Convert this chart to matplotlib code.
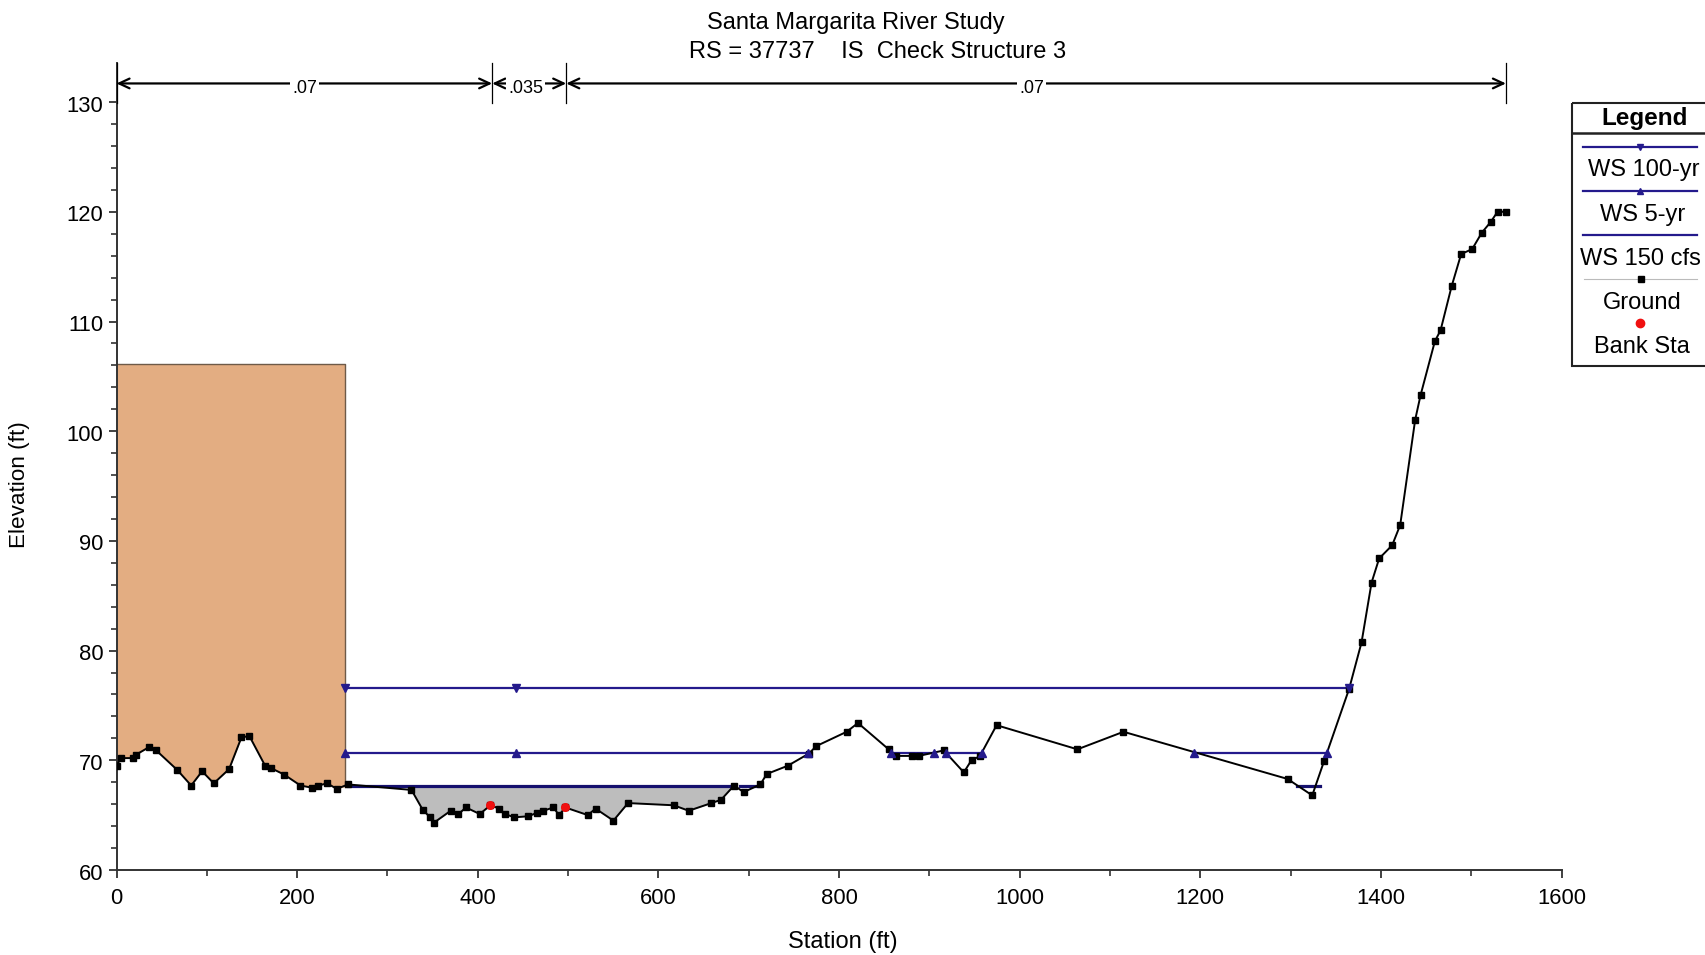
import numpy as np
import matplotlib
matplotlib.use('Agg')
import matplotlib.pyplot as plt
from matplotlib.patches import Rectangle
from matplotlib.ticker import MultipleLocator
from matplotlib.transforms import ScaledTranslation

# Cross section ground points
ground_x = [0, 4.8, 18.8, 21.4, 36, 44, 67.5, 82.7, 94.8, 107.7, 124.7, 138.4, 147.2, 164.6, 170.8,
            185.6, 203.7, 216.6, 223.6, 233.2, 243.9, 256.5, 326.6, 339, 347.2, 351.3, 370, 378.6,
            387, 402.2, 414, 423.6, 429.9, 440.6, 456, 465.3, 472.7, 483.8, 490, 497, 522, 530.4,
            550.2, 566.4, 617, 633.6, 658.7, 669.4, 683.8, 694.5, 712.9, 720, 743.2, 766.4, 775,
            808.5, 821, 855, 862.8, 881, 888.4, 916, 938.2, 947, 955.8, 974.5, 1064, 1115, 1296.7,
            1324, 1337, 1364.8, 1378.6, 1389.7, 1398.1, 1412.5, 1421.4, 1438, 1444, 1459.8, 1466.1,
            1478.3, 1488.9, 1501.1, 1511.8, 1521.4, 1529.2, 1538.4]
ground_y = [69.5, 70.2, 70.2, 70.5, 71.2, 70.9, 69.1, 67.7, 69.0, 67.9, 69.2, 72.1, 72.2, 69.5, 69.3,
            68.7, 67.7, 67.5, 67.7, 67.9, 67.4, 67.8, 67.3, 65.5, 64.8, 64.3, 65.4, 65.1,
            65.7, 65.1, 65.9, 65.6, 65.1, 64.8, 64.9, 65.2, 65.4, 65.7, 65.0, 65.7, 65.0, 65.6,
            64.5, 66.1, 65.9, 65.4, 66.1, 66.4, 67.7, 67.1, 67.8, 68.75, 69.5, 70.6, 71.3,
            72.6, 73.4, 71.0, 70.4, 70.4, 70.4, 70.9, 68.9, 70.05, 70.35, 73.2, 71.0, 72.6, 68.3,
            66.8, 69.9, 76.5, 80.75, 86.2, 88.4, 89.6, 91.45, 101.05, 103.3, 108.2, 109.2,
            113.2, 116.15, 116.6, 118.1, 119.05, 120, 120]

bank_x = [414, 497]
bank_y = [65.95, 65.7]

# water surfaces, nan splits the wetted parts
ws100_x = [253, 1365]
ws100_y = [76.6, 76.6]
ws100_marks = [253, 442, 1365]

ws5_x = [253, 766, np.nan, 858, 905, np.nan, 918, 958, np.nan, 1193, 1340]
ws5_y = [70.65, 70.65, np.nan, 70.65, 70.65, np.nan, 70.65, 70.65, np.nan, 70.65, 70.65]
ws5_marks = [253, 442, 766, 858, 905, 918, 958, 1193, 1340]

ws150_x = [256, 682, np.nan, 690, 712, np.nan, 1307, 1333]
ws150_y = [67.65, 67.65, np.nan, 67.65, 67.65, np.nan, 67.65, 67.65]
ws150_level = 67.65
wet_start = 326
wet_end = 684

# ineffective flow block on the left
block_right = 253
block_right_y = 67.6
block_top = 106.1

# Manning n values along the top
n_breaks = [0, 416, 498, 1538.5]
n_labels = ['.07', '.035', '.07']
n_label_x = [208, 453, 1013]

NAVY = '#241a8c'
ORANGE = '#e3ad82'
plt.rcParams['font.family'] = 'Liberation Sans'

W, H = 1705, 955
fig = plt.figure(figsize=(W / 100, H / 100), dpi=100)
ax = fig.add_axes([116.5 / W, 1 - 870 / H, (1561.5 - 116.5) / W, (870 - 63) / H])

gx = np.array(ground_x)
gy = np.array(ground_y)

# orange block
left = gx <= 245
bx = np.append(gx[left], block_right)
by = np.append(gy[left], block_right_y)
ax.fill_between(bx, by, block_top, color=ORANGE, lw=0, zorder=1)
ax.plot([0, block_right, block_right], [block_top, block_top, block_right_y], color='#6e5a48', lw=1, zorder=1.5)

# wetted area of the low flow
wet = (gx >= wet_start) & (gx <= wet_end)
ax.fill_between(gx[wet], gy[wet], ws150_level, color='#bdbdbd', lw=0, zorder=1)

ax.plot(ws100_x, ws100_y, color=NAVY, lw=1.6, zorder=2)
ax.plot(ws100_marks, [ws100_y[0]] * len(ws100_marks), ls='none', marker='v', ms=5.5, color=NAVY, zorder=3.5)
ax.plot(ws5_x, ws5_y, color=NAVY, lw=1.6, zorder=2)
ax.plot(ws5_marks, [ws5_y[0]] * len(ws5_marks), ls='none', marker='^', ms=5.5, color=NAVY, zorder=3.5)
ax.plot(ws150_x, ws150_y, color='#15106e', lw=2.3, zorder=2)

ax.plot(ground_x, ground_y, color='black', lw=1.4, marker='s', ms=5, zorder=3)
ax.plot(bank_x, bank_y, ls='none', marker='o', ms=5.5, color='#f01010', zorder=4)

# n value brackets
for b in n_breaks:
    ax.plot([b, b], [129.9, 133.6], color='black', lw=0.9, clip_on=False, zorder=3)
for i in range(len(n_labels)):
    ax.annotate('', xy=(n_breaks[i], 131.7), xytext=(n_breaks[i + 1], 131.7),
                arrowprops=dict(arrowstyle='<->,head_length=0.75,head_width=0.35', color='black', lw=1.6,
                                shrinkA=0, shrinkB=0), zorder=3)
    ax.text(n_label_x[i], 131.2, n_labels[i], ha='center', va='center', fontsize=13,
            bbox=dict(facecolor='white', edgecolor='none', pad=1.5), zorder=4)

ax.set_xlim(0, 1600)
ax.set_ylim(60, 60 + (870 - 63) / 10.97)
ax.set_xticks(np.arange(0, 1601, 200))
ax.set_yticks(np.arange(60, 131, 10))
ax.xaxis.set_minor_locator(MultipleLocator(100))
ax.set_yticks([t for t in np.arange(60, 131, 2) if t % 10 != 0], minor=True)
ax.tick_params(which='major', length=6, width=1.3, labelsize=15.8, color='#333333')
ax.tick_params(axis='x', which='major', pad=7)
ax.tick_params(which='minor', length=4, width=1.2, color='#333333')
for side in ['top', 'right']:
    ax.spines[side].set_visible(False)
for side in ['left', 'bottom']:
    ax.spines[side].set_linewidth(1.4)
    ax.spines[side].set_color('#333333')
# y labels sit a little lower than their ticks
for lab in ax.get_yticklabels():
    lab.set_transform(lab.get_transform() + ScaledTranslation(0, -1.5 / 100, fig.dpi_scale_trans))


# overlay in picture pixels for titles and the legend box
ov = fig.add_axes([0, 0, 1, 1], facecolor='none')
ov.set_xlim(0, W)
ov.set_ylim(H, 0)
ov.axis('off')

ov.text(856, 22.5, 'Santa Margarita River Study', ha='center', va='center', fontsize=17)
ov.text(878, 51.5, 'RS = 37737    IS  Check Structure 3', ha='center', va='center', fontsize=17)
ov.text(843, 942, 'Station (ft)', ha='center', va='center', fontsize=17)
ov.text(20, 485, 'Elevation (ft)', ha='center', va='center', fontsize=16.2, rotation=90)

ov.add_patch(Rectangle((1572, 103), 140, 263, fill=False, edgecolor='#222222', lw=1.5, clip_on=True))
ov.plot([1572, 1705], [133, 133], color='#222222', lw=1.8)
ov.text(1645, 118.5, 'Legend', ha='center', va='center', fontsize=17.5, fontweight='bold')

legend_names = ['WS 100-yr', 'WS 5-yr', 'WS 150 cfs', 'Ground', 'Bank Sta']
legend_line_y = [146.7, 190.7, 235.3, 278.7]
legend_text_y = [170, 214.5, 258.5, 302.5, 346.5]
legend_text_x = [1644, 1643, 1640, 1642, 1642]
legend_marks = ['v', '^', None]

for i in range(3):
    ov.plot([1583, 1697], [legend_line_y[i]] * 2, color=NAVY, lw=1.6)
    if legend_marks[i]:
        ov.plot([1640], [legend_line_y[i]], marker=legend_marks[i], ms=5, color=NAVY)
ov.plot([1584, 1697], [legend_line_y[3]] * 2, color='#bbbbbb', lw=0.8)
ov.plot([1641], [legend_line_y[3]], marker='s', ms=4.8, color='black')
ov.plot([1640], [322.7], marker='o', ms=6, color='#f01010')
for name, tx, ty in zip(legend_names, legend_text_x, legend_text_y):
    ov.text(tx, ty, name, ha='center', va='center', fontsize=17)

fig.savefig('out.png', dpi=100)
